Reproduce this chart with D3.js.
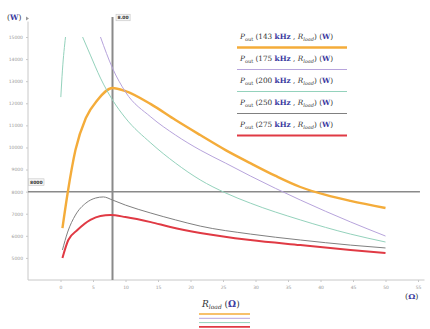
<!DOCTYPE html>
<html><head><meta charset="utf-8">
<script src="https://cdn.jsdelivr.net/npm/d3@7"></script>
<style>body{margin:0;background:#fff}svg{display:block}</style>
</head><body>
<svg id="c" width="430" height="329"></svg>
<script>
const freqs = ["143", "175", "200", "250", "275"];
const colors = ["#f4ac3a", "#b7a4dc", "#94d2bc", "#808080", "#e03a44"];
const widths = [2.4, 1, 1, 1, 2];
// R (ohm) and P (W) for each series; null marks an off-chart gap
const rOrange = [0.3, 1.1, 2.3, 3.9, 5.7, 8, 10, 13.9, 17.7, 21.5, 25.4, 29.2, 33.1, 36.9, 40.8, 44.6, 50];
const pOrange = [6350, 7940, 9880, 11330, 12150, 12690, 12550, 11960, 11240, 10560, 9880, 9290, 8710, 8210, 7850, 7580, 7260];
const rPurple = [6.15, 8, 10, 13.9, 17.7, 21.5, 25.4, 29.2, 36.9, 44.6, 50];
const pPurple = [15000, 13590, 12510, 11380, 10560, 9880, 9290, 8710, 7620, 6630, 5990];
const rGreen = [0.05, 0.3, 0.77, 2, 3.4, 4.6, 6.15, 8, 10, 13.9, 17.7, 21.5, 25.4, 29.2, 36.9, 44.6, 50];
const pGreen = [12280, 13500, 15000, null, 15000, 14180, 13140, 12150, 11330, 10200, 9290, 8530, 7940, 7480, 6720, 6080, 5720];
const rGray = [0.3, 1.1, 2.3, 3.9, 5.4, 6.6, 8, 10, 13.9, 17.7, 21.5, 29.2, 36.9, 44.6, 50];
const pGray = [5360, 6170, 6940, 7480, 7710, 7760, 7620, 7390, 7030, 6720, 6440, 6080, 5810, 5580, 5450];
const rRed = [0.3, 1.2, 2.6, 4.6, 6.15, 7.7, 10, 13.9, 16.9, 21.5, 29.2, 36.9, 44.6, 50];
const pRed = [5000, 5810, 6260, 6720, 6900, 6940, 6850, 6620, 6400, 6130, 5810, 5580, 5360, 5220];
const xTicks = [0, 5, 10, 15, 20, 25, 30, 35, 40, 45, 50, 55];
const yTicks = [5000, 6000, 7000, 8000, 9000, 10000, 11000, 12000, 13000, 14000, 15000];
const vLineR = 8.00;
const hLineP = 8000;

const seriesR = [rOrange, rPurple, rGreen, rGray, rRed];
const seriesP = [pOrange, pPurple, pGreen, pGray, pRed];

const svg = d3.select("#c");
const x = d3.scaleLinear().domain([-5, 55]).range([28, 418]);
const y = d3.scaleLinear().domain([4000, 15000]).range([280, 37]);

// axes
const axisCol = "#c8c8c8";
const gx = svg.append("g").attr("transform", `translate(0,${y(4000)})`)
  .call(d3.axisBottom(x).tickValues(xTicks).tickSize(2).tickFormat(d3.format("d")));
gx.select(".domain").attr("stroke", axisCol).attr("d", `M${x(-5)},0H${x(56)}`);
gx.selectAll(".tick line").attr("stroke", axisCol);
gx.selectAll(".tick text").attr("fill", "#999").attr("font-size", 4.5).attr("font-family", "DejaVu Sans").attr("dy", "0.9em");

const gy = svg.append("g").attr("transform", `translate(${x(-5)},0)`)
  .call(d3.axisLeft(y).tickValues(yTicks).tickSize(2).tickFormat(d3.format("d")));
gy.select(".domain").attr("stroke", axisCol).attr("d", `M0,${y(4000)}V${y(15700)}`);
gy.selectAll(".tick line").attr("stroke", axisCol);
gy.selectAll(".tick text").attr("fill", "#999").attr("font-size", 4.5).attr("font-family", "DejaVu Sans");

// reference lines
svg.append("line").attr("x1", x(-5)).attr("x2", x(55.3)).attr("y1", y(hLineP)).attr("y2", y(hLineP))
  .attr("stroke", "#8a8a8a").attr("stroke-width", 1.5);
svg.append("line").attr("x1", x(vLineR)).attr("x2", x(vLineR)).attr("y1", y(4000)).attr("y2", 17)
  .attr("stroke", "#8a8a8a").attr("stroke-width", 2);

function tag(tx, ty, txt) {
  const g = svg.append("g");
  const t = g.append("text").attr("x", tx).attr("y", ty).attr("font-size", 4.5)
    .attr("font-family", "DejaVu Sans").attr("font-weight", "bold").attr("fill", "#333").text(txt);
  const b = t.node().getBBox();
  g.insert("rect", "text").attr("x", b.x - 1.5).attr("y", b.y - 0.8).attr("width", b.width + 3).attr("height", b.height + 1.6)
    .attr("fill", "#f4f4f4").attr("stroke", "#bbb").attr("stroke-width", 0.5);
}
tag(x(vLineR) + 5, 19, d3.format(".2f")(vLineR));
tag(30, y(hLineP) - 8, d3.format("d")(hLineP));

// curves
const line = d3.line().defined(d => d[1] !== null).x(d => x(d[0])).y(d => y(d[1])).curve(d3.curveMonotoneX);
seriesR.forEach((rs, i) => {
  const data = rs.map((r, j) => [r, seriesP[i][j]]);
  svg.append("path").attr("d", line(data)).attr("fill", "none")
    .attr("stroke", colors[i]).attr("stroke-width", widths[i]).attr("stroke-linejoin", "round");
});

// axis labels
const yl = svg.append("text").attr("x", 7).attr("y", 20).attr("font-size", 7.5).attr("font-family", "DejaVu Serif").attr("fill", "#333");
yl.append("tspan").text("(");
yl.append("tspan").attr("fill", "#3a3aa0").attr("font-weight", "bold").text("W");
yl.append("tspan").text(")");
svg.append("path").attr("d", "M26,16.5L29,18.5L26,20.5Z").attr("fill", "#999");

const xl = svg.append("text").attr("x", 405).attr("y", 299).attr("font-size", 8).attr("font-family", "DejaVu Serif").attr("fill", "#333");
xl.append("tspan").text("(");
xl.append("tspan").attr("fill", "#3a3aa0").attr("font-weight", "bold").text("Ω");
xl.append("tspan").text(")");

// bottom label
const bl = svg.append("text").attr("x", 202).attr("y", 307).attr("font-size", 9).attr("font-family", "DejaVu Serif").attr("fill", "#333");
bl.append("tspan").attr("font-style", "italic").text("R");
bl.append("tspan").attr("font-size", 6).attr("dy", 2).attr("font-style", "italic").text("load");
bl.append("tspan").attr("dy", -2).text(" (");
bl.append("tspan").attr("fill", "#3a3aa0").attr("font-weight", "bold").text("Ω");
bl.append("tspan").text(")");
[0, 1, 2, 4].forEach((ci, k) => {
  svg.append("line").attr("x1", 199).attr("x2", 250).attr("y1", 314 + k * 4.3).attr("y2", 314 + k * 4.3)
    .attr("stroke", colors[ci]).attr("stroke-width", ci === 0 || ci === 4 ? 1.6 : 1);
});

// legend
freqs.forEach((f, i) => {
  const ty = 39 + i * 22;
  const t = svg.append("text").attr("x", 240).attr("y", ty).attr("font-size", 7.3).attr("font-family", "DejaVu Serif").attr("fill", "#333");
  t.append("tspan").attr("font-style", "italic").text("P");
  t.append("tspan").attr("font-size", 5).attr("dy", 1.5).text("out");
  t.append("tspan").attr("dy", -1.5).text(" (" + f + " ");
  t.append("tspan").attr("fill", "#3a3aa0").attr("font-weight", "bold").text("kHz");
  t.append("tspan").text(" , ");
  t.append("tspan").attr("font-style", "italic").text("R");
  t.append("tspan").attr("font-size", 5).attr("dy", 1.5).attr("font-style", "italic").text("load");
  t.append("tspan").attr("dy", -1.5).text(")  (");
  t.append("tspan").attr("fill", "#3a3aa0").attr("font-weight", "bold").text("W");
  t.append("tspan").text(")");
  svg.append("line").attr("x1", 237).attr("x2", 347).attr("y1", ty + 8.5).attr("y2", ty + 8.5)
    .attr("stroke", colors[i]).attr("stroke-width", widths[i] > 1.5 ? widths[i] : 1);
});
</script>
</body></html>
